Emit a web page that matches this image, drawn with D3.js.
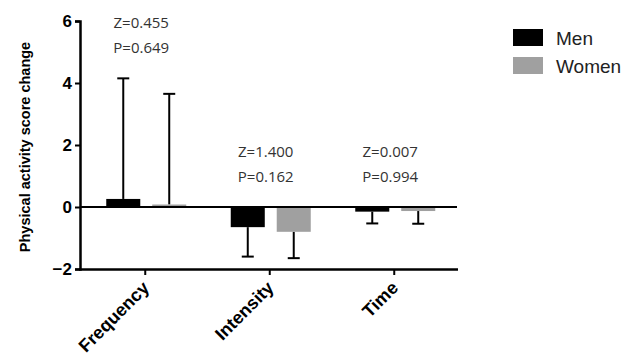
<!DOCTYPE html>
<html>
<head>
<meta charset="utf-8">
<script src="https://cdn.jsdelivr.net/npm/d3@7"></script>
<style>
  body { margin: 0; background: #fff; }
  svg { display: block; }
</style>
</head>
<body>
<svg id="chart" width="635" height="360"></svg>
<script>
// data
var categories = ["Frequency", "Intensity", "Time"];
var groups = ["Men", "Women"];
var menMeans = [0.26, -0.65, -0.15];
var menErr = [4.15, -1.6, -0.53];
var womenMeans = [0.08, -0.8, -0.13];
var womenErr = [3.65, -1.65, -0.54];
var zLabels = ["Z=0.455", "Z=1.400", "Z=0.007"];
var pLabels = ["P=0.649", "P=0.162", "P=0.994"];
var yTicks = [-2, 0, 2, 4, 6];
var colors = ["#000000", "#a0a0a0"];

var svg = d3.select("#chart");

var x = d3.scaleBand()
    .domain(categories)
    .range([83, 456.5]);

var y = d3.scaleLinear()
    .domain([-2, 6])
    .range([269, 21]);

var inner = d3.scaleBand()
    .domain(groups)
    .range([-39, 41])
    .paddingInner(0.26);

var rows = [];
categories.forEach(function (c, i) {
    rows.push({cat: c, group: "Men", v: menMeans[i], e: menErr[i], color: colors[0]});
    rows.push({cat: c, group: "Women", v: womenMeans[i], e: womenErr[i], color: colors[1]});
});

function barX(d) {
    return x(d.cat) + x.bandwidth() / 2 + inner(d.group);
}

// error bars (drawn first, bars cover the stem)
var err = svg.append("g");
err.selectAll("line.stem")
    .data(rows)
    .enter()
    .append("line")
    .attr("x1", d => barX(d) + inner.bandwidth() / 2)
    .attr("x2", d => barX(d) + inner.bandwidth() / 2)
    .attr("y1", d => y(d.v))
    .attr("y2", d => y(d.e))
    .attr("stroke", "#000")
    .attr("stroke-width", 2);
err.selectAll("line.cap")
    .data(rows)
    .enter()
    .append("line")
    .attr("x1", d => barX(d) + inner.bandwidth() / 2 - 6)
    .attr("x2", d => barX(d) + inner.bandwidth() / 2 + 6)
    .attr("y1", d => y(d.e))
    .attr("y2", d => y(d.e))
    .attr("stroke", "#000")
    .attr("stroke-width", 2);

svg.append("g").selectAll("rect")
    .data(rows)
    .enter()
    .append("rect")
    .attr("x", barX)
    .attr("width", inner.bandwidth())
    .attr("y", d => y(Math.max(0, d.v)))
    .attr("height", d => Math.abs(y(d.v) - y(0)))
    .attr("fill", d => d.color);

// zero line
svg.append("line")
    .attr("x1", 80).attr("x2", 457)
    .attr("y1", y(0)).attr("y2", y(0))
    .attr("stroke", "#000").attr("stroke-width", 2);

// y axis
var yAxis = d3.axisLeft(y).tickValues(yTicks).tickSize(5).tickPadding(3).tickFormat(d3.format("d"));
var ya = svg.append("g")
    .attr("transform", "translate(80,0)")
    .call(yAxis);
ya.select(".domain").attr("stroke-width", 2.5);
ya.selectAll(".tick line").attr("stroke-width", 2);
ya.selectAll("text")
    .attr("font-family", "Arial, 'Liberation Sans', sans-serif")
    .attr("font-weight", "bold")
    .attr("font-size", 17)
    .attr("fill", "#000");

// x axis
var xAxis = d3.axisBottom(x).tickSize(6).tickSizeOuter(0).tickFormat("");
var xa = svg.append("g")
    .attr("transform", "translate(0,269)")
    .call(xAxis);
xa.select(".domain").attr("d", "M79,0.5H458").attr("stroke-width", 2.5);
xa.selectAll(".tick line").attr("stroke-width", 2);

svg.append("g").selectAll("text")
    .data(categories)
    .enter()
    .append("text")
    .attr("transform", d => "translate(" + (x(d) + x.bandwidth() / 2 + 5) + ",289) rotate(-45)")
    .attr("text-anchor", "end")
    .attr("font-family", "Arial, 'Liberation Sans', sans-serif")
    .attr("font-weight", "bold")
    .attr("font-size", 18)
    .text(d => d);

// y label
svg.append("text")
    .attr("transform", "translate(30,147) rotate(-90)")
    .attr("text-anchor", "middle")
    .attr("font-family", "Arial, 'Liberation Sans', sans-serif")
    .attr("font-weight", "bold")
    .attr("font-size", 14.5)
    .text("Physical activity score change");

// stats annotations
var ann = svg.append("g")
    .attr("font-family", "'Open Sans', sans-serif")
    .attr("font-size", 15)
    .attr("fill", "#333")
    .attr("text-anchor", "middle");
var annZ = [28, 157, 157];
categories.forEach(function (c, i) {
    var cx = x(c) + x.bandwidth() / 2 - 4;
    ann.append("text").attr("x", cx).attr("y", annZ[i]).text(zLabels[i]);
    ann.append("text").attr("x", cx).attr("y", annZ[i] + 25).text(pLabels[i]);
});

// legend
var legend = svg.append("g").attr("transform", "translate(513,29)");
groups.forEach(function (g, i) {
    legend.append("rect")
        .attr("x", 0).attr("y", i * 28)
        .attr("width", 30).attr("height", 17)
        .attr("fill", colors[i]);
    legend.append("text")
        .attr("x", 43).attr("y", i * 28 + 16)
        .attr("font-family", "Arial, 'Liberation Sans', sans-serif")
        .attr("font-size", 19)
        .attr("fill", "#222")
        .text(g);
});
</script>
</body>
</html>
